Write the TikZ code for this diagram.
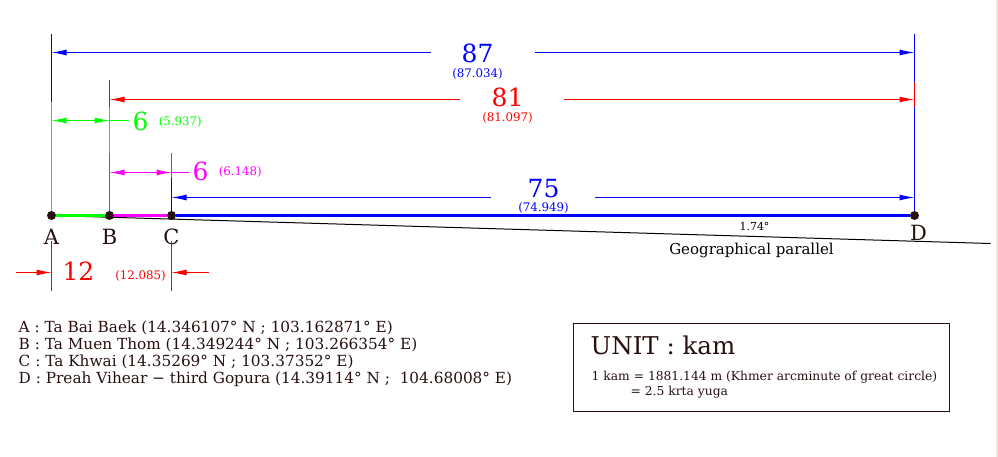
\documentclass[tikz,border=0pt]{standalone}
\usepackage{fontspec}
\setmainfont{DejaVu Serif}
\usetikzlibrary{arrows.meta,positioning}
\definecolor{dimblue}{RGB}{0,0,255}
\definecolor{dimred}{RGB}{255,0,0}
\definecolor{dimgreen}{RGB}{0,255,0}
\definecolor{dimmag}{RGB}{255,0,255}
\definecolor{ink}{RGB}{40,16,16}
\definecolor{scrollgray}{RGB}{236,233,216}
\tikzset{
  dot/.style={circle, fill=ink, inner sep=0pt, minimum size=9pt},
  ptlabel/.style={text=ink, font=\fontsize{21}{22}\selectfont, inner sep=0pt},
  bignum/.style={font=\fontsize{25}{26}\selectfont, inner sep=0pt},
  smallnum/.style={font=\fontsize{11.8}{12}\selectfont, inner sep=0pt},
  extline/.style={line width=1pt},
  dimline/.style={line width=1pt, {Latex[length=15pt,width=6pt]}-{Latex[length=15pt,width=6pt]}},
  halfdim/.style={line width=1pt, -{Latex[length=15pt,width=6pt]}},
  gap/.style={fill=white, minimum width=104pt, minimum height=4pt, inner sep=0pt},
  thickseg/.style={line width=3.5pt},
}
\begin{document}
\begin{tikzpicture}[x=1pt, y=-1pt]
\useasboundingbox (-0.5,-0.5) rectangle (997.5,456.5);
\fill[scrollgray] (995,-0.5) rectangle (997.5,456.5);

% Levels
\coordinate (top) at (0,34);
\coordinate (l87) at (0,52);
\coordinate (l81) at (0,99);
\coordinate (l6g) at (0,120);
\coordinate (l6m) at (0,172);
\coordinate (l75) at (0,197);
\coordinate (l12) at (0,272);
\coordinate (bot) at (0,290);
\coordinate (parend) at (990,243);

% Points
\node (A) [dot] at (51,215) {};
\node (B) [dot] at (109,215) {};
\node (C) [dot] at (171,215) {};
\node (D) [dot] at (914,215) {};
\node (lA) [ptlabel] at (51,236) {A};
\node (lB) [ptlabel] at (109,236) {B};
\node (lC) [ptlabel] at (171,236) {C};
\node (lD) [ptlabel] at (918,232) {D};

% Extension lines
\draw[extline, dimblue] (A|-top) -- (A|-0,102);
\draw[extline, dimgreen] (A|-0,102) -- (A);
\draw[extline, dimred] (A|-0,240) -- (A|-bot);
\draw[extline, dimred] (B|-0,80) -- (B|-0,107);
\draw[extline, dimgreen] (B|-0,107) -- (B|-0,153);
\draw[extline, dimmag] (B|-0,153) -- (B);
\draw[extline, dimmag] (C|-0,153) -- (C|-0,178);
\draw[extline, dimblue] (C|-0,178) -- (C);
\draw[extline, dimred] (C|-0,240) -- (C|-bot);
\draw[extline, dimblue] (D|-top) -- (D|-0,82);
\draw[extline, dimred] (D|-0,82) -- (D|-0,107);
\draw[extline, dimblue] (D|-0,107) -- (D);

% Geographical parallel
\draw[black, line width=1pt] (A) -- (parend);
\node (angle) [font=\fontsize{11}{12}\selectfont, inner sep=0pt] at (754,226) {1.74°};
\node (geo) [font=\fontsize{15}{16}\selectfont, inner sep=0pt] at (751,250) {Geographical parallel};

% Thick segments
\draw[thickseg, dimgreen] (A) -- (B);
\draw[thickseg, dimmag] (B) -- (C);
\draw[thickseg, dimblue] (C) -- (D);

% 87
\draw[dimline, dimblue] (A|-l87) -- node[gap] {} (D|-l87);
\node (n87) [bignum, text=dimblue] at (477,53) {87};
\node (s87) [smallnum, text=dimblue] at (477,73) {(87.034)};

% 81
\draw[dimline, dimred] (B|-l81) -- node[gap] {} (D|-l81);
\node (n81) [bignum, text=dimred] at (507,97) {81};
\node (s81) [smallnum, text=dimred] at (507,117) {(81.097)};

% 6 (A-B)
\draw[dimline, dimgreen] (A|-l6g) -- (B|-l6g);
\draw[extline, dimgreen] (B|-l6g) -- (128,120);
\node (n6g) [bignum, text=dimgreen] at (140,121) {6};
\node (s6g) [smallnum, text=dimgreen, right=10pt of n6g] {(5.937)};

% 6 (B-C)
\draw[dimline, dimmag] (B|-l6m) -- (C|-l6m);
\draw[extline, dimmag] (C|-l6m) -- (188,172);
\node (n6m) [bignum, text=dimmag] at (200,171) {6};
\node (s6m) [smallnum, text=dimmag, right=10pt of n6m] {(6.148)};

% 75
\draw[dimline, dimblue] (C|-l75) -- node[gap] {} (D|-l75);
\node (n75) [bignum, text=dimblue] at (543,188) {75};
\node (s75) [smallnum, text=dimblue] at (543,207) {(74.949)};

% 12
\draw[halfdim, dimred] (15,272) -- (A|-l12);
\draw[halfdim, dimred] (208,272) -- (C|-l12);
\node (n12) [bignum, text=dimred] at (78,271) {12};
\node (s12) [smallnum, text=dimred] at (140,275) {(12.085)};

% Legend
\node (legend) [anchor=north west, align=left, text=ink, inner sep=0pt,
  font=\fontsize{15.3}{17}\selectfont] at (18,320)
  {A : Ta Bai Baek (14.346107° N ; 103.162871° E)\\
   B : Ta Muen Thom (14.349244° N ; 103.266354° E)\\
   C : Ta Khwai (14.35269° N ; 103.37352° E)\\
   D : Preah Vihear − third Gopura (14.39114° N ;~~104.68008° E)};

% Unit box
\node (unitbox) [draw=ink, line width=1.6pt, minimum width=376pt, minimum height=88pt] at (761,367) {};
\node (unit) [anchor=west, text=ink, inner sep=0pt, font=\fontsize{24.5}{25}\selectfont] at (590,345) {UNIT : kam};
\node (kam1) [anchor=west, text=ink, inner sep=0pt, font=\fontsize{12.3}{13}\selectfont] at (591,377) {1 kam = 1881.144 m (Khmer arcminute of great circle)};
\node (kam2) [anchor=west, text=ink, inner sep=0pt, font=\fontsize{12.3}{13}\selectfont] at (630,392) {= 2.5 krta yuga};
\end{tikzpicture}
\end{document}
